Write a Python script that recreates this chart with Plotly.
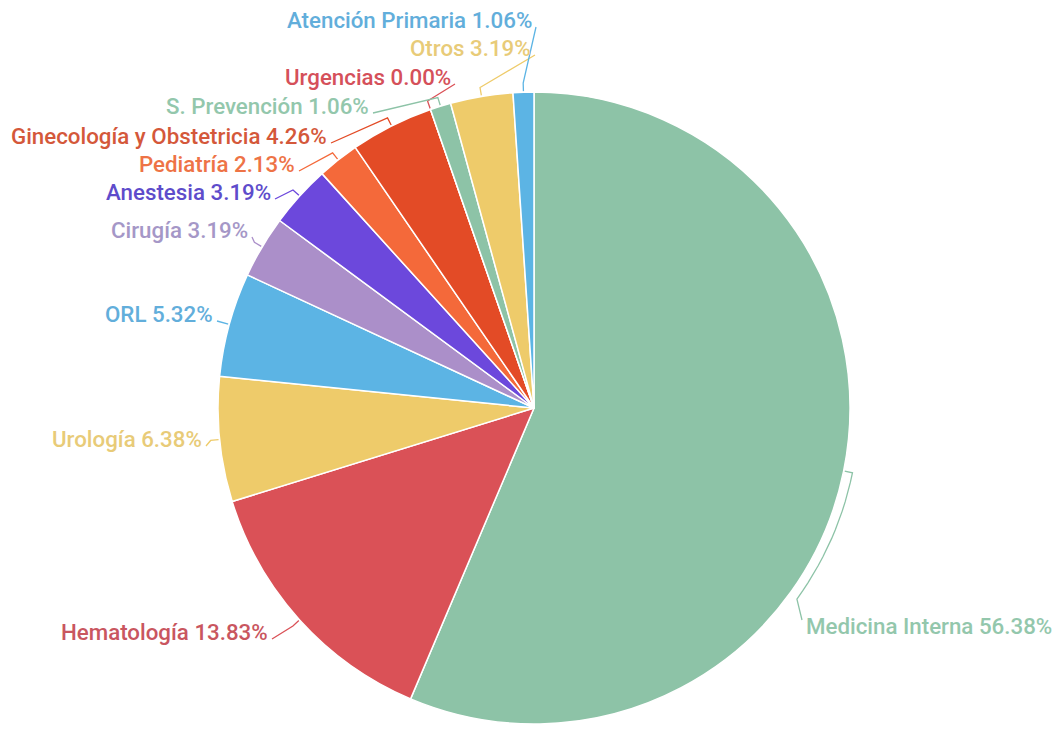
import math
import plotly.graph_objects as go

# Distribution by service (percent of total)
categories = [
    "Medicina Interna", "Hematología", "Urología", "ORL", "Cirugía",
    "Anestesia", "Pediatría", "Ginecología y Obstetricia", "Urgencias",
    "S. Prevención", "Otros", "Atención Primaria",
]
percent = [56.38, 13.83, 6.38, 5.32, 3.19, 3.19, 2.13, 4.26, 0.00, 1.06, 3.19, 1.06]

# Styling
slice_colors = [
    "#8DC3A7", "#DA5157", "#EECB6A", "#5CB4E4", "#AB8FC9",
    "#6C48DC", "#F4693A", "#E34B26", "#DA5157", "#8DC3A7",
    "#EECB6A", "#5CB4E4",
]
text_colors = [
    "#93C7AC", "#C9565F", "#E8CB78", "#62AEDB", "#A597C7",
    "#5E4CCB", "#EE7346", "#D4583A", "#D5505A", "#93C7AC",
    "#E8CB78", "#62AEDB",
]

W, H = 1057, 731
CX, CY, R = 534, 408, 316

# Label placement: (x, y, anchor side) in page pixels; side 'r' = text ends at x
label_pos = {
    "Medicina Interna": (804, 626, "l"),
    "Hematología": (270, 632, "r"),
    "Urología": (204, 439, "r"),
    "ORL": (215, 314, "r"),
    "Cirugía": (250, 230, "r"),
    "Anestesia": (273, 192, "r"),
    "Pediatría": (297, 164, "r"),
    "Ginecología y Obstetricia": (329, 136, "r"),
    "Urgencias": (453, 77, "r"),
    "S. Prevención": (371, 106, "r"),
    "Otros": (533, 48, "r"),
    "Atención Primaria": (534, 20, "r"),
}
# connectors that follow the rim before reaching the label
rim_follow = {"Medicina Interna": 126.0}

fig = go.Figure()

fig.add_trace(go.Pie(
    labels=categories,
    values=percent,
    sort=False,
    direction="clockwise",
    rotation=0,
    marker=dict(colors=slice_colors, line=dict(color="white", width=1.5)),
    textinfo="none",
    hoverinfo="label+percent",
    domain=dict(
        x=[(CX - R) / W, (CX + R) / W],
        y=[1 - (CY + R) / H, 1 - (CY - R) / H],
    ),
))


def rim_point(theta_deg, rad):
    t = math.radians(theta_deg)
    return CX + rad * math.sin(t), CY - rad * math.cos(t)


total = sum(percent)
cum = 0.0
annotations = []
for name, val, lc, tc in zip(categories, percent, slice_colors, text_colors):
    start = cum / total * 360.0
    cum += val
    end = cum / total * 360.0
    mid = (start + end) / 2.0
    lx, ly, side = label_pos[name]

    pts = [rim_point(mid, R + 1), rim_point(mid, R + 9)]
    if name in rim_follow:
        stop = rim_follow[name]
        steps = 14
        for k in range(1, steps + 1):
            a = mid + (stop - mid) * k / steps
            pts.append(rim_point(a, R + 9))
    if side == "r":
        pts.append((lx + 2, ly + 7))
    else:
        pts.append((lx - 2, ly - 6))

    fig.add_trace(go.Scatter(
        x=[p[0] for p in pts], y=[p[1] for p in pts],
        mode="lines", line=dict(color=lc, width=1.3),
        hoverinfo="skip", showlegend=False,
    ))

    annotations.append(dict(
        x=lx, y=ly, xref="x", yref="y",
        text=f"{name} {val:.2f}%",
        showarrow=False,
        xanchor="right" if side == "r" else "left",
        yanchor="middle",
        font=dict(family="Roboto", size=22.3, color=tc, weight=500),
    ))

fig.update_layout(
    width=W, height=H,
    margin=dict(l=0, r=0, t=0, b=0),
    paper_bgcolor="white", plot_bgcolor="rgba(0,0,0,0)",
    showlegend=False,
    xaxis=dict(range=[0, W], visible=False, fixedrange=True, domain=[0, 1]),
    yaxis=dict(range=[H, 0], visible=False, fixedrange=True, domain=[0, 1]),
    annotations=annotations,
)

fig.write_html("out.html")
